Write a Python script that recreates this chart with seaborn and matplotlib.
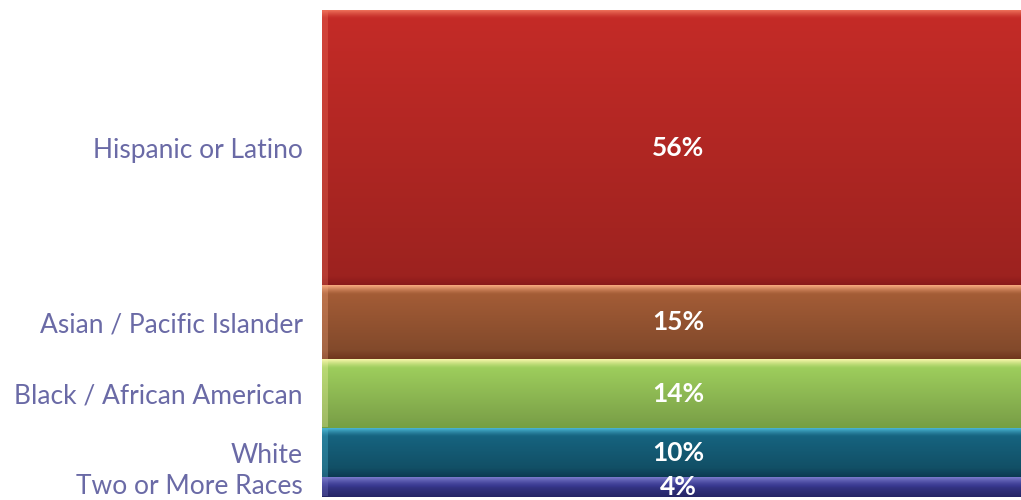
import numpy as np
import matplotlib
matplotlib.use("Agg")
import matplotlib.pyplot as plt
from matplotlib.colors import to_rgb
from matplotlib.transforms import ScaledTranslation
import seaborn as sns

groups = ["Hispanic or Latino", "Asian / Pacific Islander", "Black / African American",
          "White", "Two or More Races"]
shares = [56, 15, 14, 10, 4]
value_labels = ["56%", "15%", "14%", "10%", "4%"]

# (top highlight, body, bottom shade) per group
palette = [
    ("#F47A62", "#C42B27", "#8A1A1B"),
    ("#F8AA80", "#A35C36", "#70371E"),
    ("#F8F6AA", "#9DCD5C", "#74A042"),
    ("#52C2E0", "#16637F", "#0C3A52"),
    ("#7A7ACC", "#38388F", "#252566"),
]

sns.set_theme(style="white")
plt.rcParams["font.family"] = ["Lato", "DejaVu Sans"]

fig = plt.figure(figsize=(10.21, 5.0), dpi=100)
ax = fig.add_axes([322 / 1021, 3 / 500, 1 - 322 / 1021, 487 / 500])

sns.barplot(x=[100] * len(groups), y=groups, orient="h", ax=ax,
            color="#999999", width=0.9)

total = sum(shares)
starts = np.concatenate([[0], np.cumsum(shares)[:-1]])
centers = starts + np.array(shares) / 2

ax.set_xlim(0, 100)
ax.set_ylim(total, 0)

px_per_unit = 487 / total


def shade(top, body, bottom, n_px):
    top, body, bottom = map(np.array, (to_rgb(top), to_rgb(body), to_rgb(bottom)))
    rows = max(int(n_px * 2), 8)
    d = np.linspace(0, n_px, rows)  # pixel distance from top edge
    out = np.zeros((rows, 3))
    bev = 9.0
    low = body * 0.8 if n_px > 3 * bev else body * 0.9
    for i, di in enumerate(d):
        if di < bev:
            t = di / bev
            c = top * (1 - t) ** 1.3 + body * (1 - (1 - t) ** 1.3)
        elif di > n_px - bev:
            t = (di - (n_px - bev)) / bev
            c = low * (1 - t) + bottom * t
        else:
            t = (di - bev) / max(n_px - 2 * bev, 1)
            c = body * (1 - t) + low * t
        out[i] = c
    return out


for patch, y0, h, cols in zip(ax.patches, starts, shares, palette):
    patch.set_y(y0)
    patch.set_height(h)
    patch.set_x(0)
    patch.set_width(100)
    patch.set_facecolor(cols[1])
    patch.set_edgecolor("#3a2a20")
    patch.set_linewidth(0.6)
    img = shade(*cols, h * px_per_unit)
    im = ax.imshow(img[:, None, :], extent=(0, 100, y0 + h, y0), aspect="auto",
                   interpolation="bilinear", zorder=patch.get_zorder() + 0.1)
    im.set_clip_path(patch)
    # left bevel
    lb = np.array(to_rgb(cols[0]))
    ax.fill_betweenx([y0 + 0.15, y0 + h - 0.15], 0, 0.9, color=lb, alpha=0.3,
                     zorder=patch.get_zorder() + 0.2, linewidth=0)

ax.set_yticks(centers)
ax.set_yticklabels(groups)
ax.tick_params(axis="y", length=0, pad=14, labelsize=19, labelcolor="#6A6AA6")
# lift the bottom label a little so it stays inside the figure
last = ax.get_yticklabels()[-1]
last.set_transform(last.get_transform() + ScaledTranslation(0, 3 / 100, fig.dpi_scale_trans))
ax.set_xticks([])
ax.set_ylabel("")
ax.set_xlabel("")
for s in ax.spines.values():
    s.set_visible(False)

for c, lab in zip(centers, value_labels):
    ax.text(51, c, lab, ha="center", va="center", color="white",
            fontsize=19, fontweight="bold", zorder=10)

fig.savefig("out.png", dpi=100)
